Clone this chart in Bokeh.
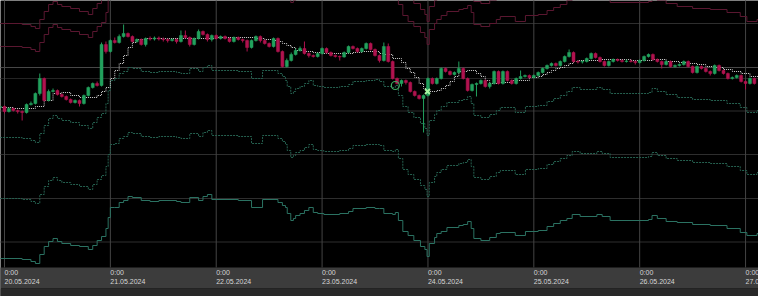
from bokeh.plotting import figure
from bokeh.models import Range1d
from bokeh.embed import file_html
from bokeh.resources import INLINE
from bokeh.core.properties import value

# ---------------- data (hours since 20.05.2024 0:00, hourly candles) ----------------
hours = list(range(-1, 171))
first_open = 66650
close = [66700, 66450, 66600, 66500, 66450, 66400, 66800, 66850, 67350, 68100,
         67000, 67450, 67500, 67300, 67200, 67050, 66900, 67000, 66850, 67250,
         67650, 67850, 67750, 69800, 69450, 70000, 69900, 70200, 70350, 70200,
         69950, 70050, 69800, 70100, 70075, 70125, 70075, 70050, 70000, 70050,
         69950, 70250, 70150, 69800, 70100, 70450, 70300, 70050, 70250, 70100,
         70200, 70100, 69950, 70150, 70050, 70000, 69650, 70000, 70200, 70000,
         69850, 69700, 70100, 69450, 68700, 69000, 69300, 69500, 69600, 69350,
         69250, 69200, 69350, 69600, 69400, 69250, 69200, 69175, 69400, 69700,
         69600, 69450, 69600, 69850, 69550, 69250, 69000, 69700, 68950, 68100,
         67850, 68000, 67900, 67450, 67250, 67100, 67250, 68100, 67850, 68100,
         68600, 68450, 68300, 68400, 68600, 68100, 67500, 67800, 67850, 68000,
         67700, 67850, 68450, 67850, 68450, 68000, 67850, 68100, 68200, 68250,
         68150, 68250, 68400, 68600, 68750, 68850, 68750, 68950, 69200, 69400,
         68950, 68925, 68950, 69100, 69350, 69150, 68950, 68750, 68950, 69050,
         69000, 68950, 68975, 68950, 68900, 69000, 69200, 69300, 69050, 68950,
         68800, 68950, 68700, 68750, 68800, 68950, 68700, 68400, 68700, 68600,
         68450, 68350, 68750, 68500, 68350, 68100, 68150, 68250, 67950, 67850,
         68100, 67850]
high = [66750, 66750, 66650, 66650, 66550, 66500, 66850, 66950, 67400, 68350,
        68150, 67550, 67600, 67550, 67350, 67250, 67100, 67050, 67050, 67300,
        67700, 67900, 67950, 69900, 69950, 70050, 70150, 70300, 70800, 70400,
        70250, 70100, 70100, 70150, 70200, 70200, 70200, 70150, 70100, 70100,
        70100, 70500, 70500, 70200, 70150, 70550, 70500, 70350, 70300, 70300,
        70250, 70250, 70150, 70200, 70200, 70100, 70050, 70050, 70250, 70250,
        70050, 69900, 70150, 70150, 69500, 69100, 69400, 69600, 69700, 69950,
        69400, 69300, 69400, 69650, 69650, 69450, 69300, 69250, 69450, 69750,
        69750, 69650, 69650, 69900, 69900, 69600, 69300, 69900, 69850, 69000,
        68150, 68050, 68050, 67950, 67500, 67300, 67300, 68150, 68150, 68150,
        68650, 68650, 68500, 68450, 68950, 68650, 68150, 67850, 67900, 68050,
        68050, 67900, 68500, 68500, 68500, 68500, 68050, 68150, 68500, 68300,
        68300, 68300, 68450, 68650, 68800, 68900, 68900, 69000, 69250, 69550,
        69450, 69000, 69000, 69150, 69400, 69400, 69200, 69000, 69000, 69100,
        69100, 69050, 69050, 69050, 69000, 69050, 69250, 69350, 69350, 69100,
        69000, 69000, 69000, 68800, 68850, 69000, 69000, 68750, 68750, 68750,
        68650, 68500, 68800, 68800, 68550, 68400, 68200, 68300, 68300, 68000,
        68150, 68150]
low = [66600, 66350, 66400, 66450, 66350, 66000, 66350, 66750, 66800, 67250,
       66950, 66950, 67400, 67250, 67150, 67000, 66850, 66850, 66700, 66800,
       67200, 67600, 67700, 67700, 69350, 69400, 69850, 69850, 70150, 70150,
       69900, 69900, 69750, 69700, 70000, 70000, 70000, 69950, 69900, 69950,
       69850, 69900, 70100, 69700, 69750, 70050, 70250, 69950, 69950, 70050,
       70050, 70050, 69900, 69900, 70000, 69900, 69450, 69600, 69950, 69900,
       69800, 69650, 69650, 69400, 68650, 68650, 68950, 69250, 69450, 69300,
       69150, 69150, 69150, 69300, 69350, 69200, 69150, 69000, 69150, 69350,
       69550, 69400, 69400, 69550, 69500, 69200, 68900, 68950, 68900, 68050,
       67800, 67700, 67800, 67400, 67200, 67050, 65400, 67200, 67800, 67800,
       68050, 68400, 68250, 68250, 68350, 68050, 67450, 67450, 67200, 67800,
       67650, 67600, 67800, 67800, 67800, 67950, 67800, 67800, 68050, 68150,
       68100, 68100, 68200, 68350, 68550, 68700, 68700, 68700, 68900, 69150,
       68900, 68850, 68850, 68900, 69050, 69100, 68900, 68700, 68700, 68900,
       68950, 68900, 68900, 68900, 68800, 68850, 68950, 69150, 69000, 68900,
       68600, 68750, 68650, 68650, 68700, 68750, 68650, 68350, 68350, 68550,
       68400, 68250, 68300, 68450, 68300, 68050, 68050, 68100, 67900, 67550,
       67800, 67800]

# moving average (step line)
ma_h = [-1, 2, 7, 9, 11, 13, 15, 17, 21, 22, 23, 24, 25, 26, 27, 28, 29, 30, 32, 48,
        57, 59, 61, 62, 63, 64, 65, 66, 68, 70, 72, 79, 81, 85, 86, 88, 90, 91, 92, 93,
        94, 95, 96, 98, 99, 100, 101, 102, 103, 105, 107, 108, 109, 110, 112, 115, 119, 121, 122, 123,
        124, 125, 126, 127, 128, 129, 130, 135, 142, 147, 150, 153, 155, 157, 159, 161, 163, 165, 167, 169,
        171]
ma_p = [66650, 66600, 66700, 67000, 67350, 67400, 67250, 67150, 67250, 67450,
        67650, 68100, 68500, 68850, 69250, 69650, 69900, 70050, 70100, 70150,
        70100, 70050, 70000, 69950, 69850, 69750, 69650, 69500, 69450, 69400,
        69350, 69400, 69450, 69350, 69300, 69100, 68900, 68600, 68400, 68150,
        67850, 67600, 67450, 67500, 67600, 67750, 67950, 68200, 68450, 68500,
        68350, 68200, 68000, 67850, 67900, 68000, 68150, 68200, 68300, 68400,
        68500, 68600, 68650, 68750, 68850, 68950, 69000, 69050, 69000, 69050,
        68950, 68900, 68850, 68800, 68700, 68650, 68550, 68450, 68350, 68200,
        68150]

# envelope bands (step lines)
band_h = [-1, 4, 6, 7, 8, 9, 10, 11, 12, 13, 15, 17, 19, 20, 21, 22, 23, 23.5, 24, 25,
          26, 27, 28, 29, 31, 33, 35, 39, 40, 42, 44, 45, 46, 47, 53, 56, 58.5, 62, 63, 63.7,
          64.1, 64.9, 65.5, 66, 67, 68, 69, 70, 71, 72.4, 76, 78, 79, 82, 84, 85, 86, 88, 88.6, 89.3,
          90.3, 91.5, 92.8, 94.3, 95.3, 95.8, 96.3, 97.5, 98, 99, 100.3, 103, 104, 105, 105.8, 106.4, 108, 110, 111.5, 112.4,
          115.8, 118.1, 121, 123, 124.5, 126, 127.5, 128.7, 130.5, 134.3, 135.5, 137.3, 146, 146.8, 148, 150, 152.5, 156, 160, 163.8,
          166.8, 168.3, 170.6, 172]
env_dn1 = [65150, 65100, 65000, 64900, 65350, 65750, 66100, 66250, 66100, 66000, 65900, 65750, 65600, 65900, 66150, 66350, 66850, 67500, 68000, 68100,
           68350, 68450, 68650, 68600, 68450, 68400, 68450, 68400, 68350, 68600, 68450, 68650, 68750, 68500, 68450, 68100, 68500, 68350, 68200, 68000,
           67700, 67350, 67450, 67600, 67700, 67850, 68000, 67750, 67700, 67650, 67700, 67800, 67950, 68000, 68050, 67950, 67700, 67650, 67750, 67250,
           66700, 66400, 66150, 65850, 65600, 65250, 66000, 66300, 66500, 66700, 66900, 67000, 67050, 67200, 66850, 66250, 66150, 66300, 66500, 66650,
           66400, 66700, 66750, 66950, 67100, 67250, 67450, 67650, 67550, 67650, 67550, 67350, 67400, 67600, 67450, 67300, 67150, 67050, 67000, 66850,
           66650, 66400, 66500, 66500]
env_dn2 = [62100, 62050, 61950, 61850, 62300, 62700, 63000, 63150, 63000, 62900, 62800, 62700, 62550, 62800, 63050, 63250, 63700, 64300, 64800, 64850,
           65100, 65200, 65400, 65350, 65200, 65150, 65200, 65150, 65100, 65350, 65200, 65400, 65500, 65250, 65200, 64850, 65250, 65100, 64950, 64800,
           64500, 64150, 64250, 64400, 64500, 64650, 64800, 64550, 64500, 64450, 64500, 64600, 64750, 64800, 64800, 64750, 64500, 64450, 64550, 64100,
           63550, 63300, 63050, 62750, 62550, 62200, 62900, 63200, 63400, 63550, 63750, 63850, 63900, 64050, 63700, 63150, 63050, 63200, 63400, 63500,
           63300, 63550, 63600, 63800, 63950, 64100, 64250, 64450, 64350, 64450, 64350, 64150, 64200, 64400, 64250, 64100, 64000, 63900, 63850, 63700,
           63500, 63300, 63400, 63400]
env_dn3 = [59100, 59050, 58950, 58850, 59300, 59700, 59950, 60100, 59950, 59850, 59750, 59700, 59550, 59750, 60000, 60200, 60600, 61150, 61650, 61650,
           61900, 62000, 62200, 62150, 62000, 61950, 62000, 61950, 61900, 62150, 62000, 62200, 62300, 62050, 62000, 61650, 62050, 61900, 61750, 61650,
           61350, 61000, 61100, 61250, 61350, 61500, 61650, 61400, 61350, 61300, 61350, 61450, 61600, 61650, 61600, 61600, 61350, 61300, 61400, 61000,
           60450, 60250, 60000, 59700, 59550, 59200, 59850, 60150, 60350, 60450, 60650, 60750, 60800, 60950, 60600, 60100, 60000, 60150, 60350, 60400,
           60250, 60450, 60500, 60700, 60850, 61000, 61100, 61300, 61200, 61300, 61200, 61000, 61050, 61250, 61100, 60950, 60900, 60800, 60750, 60600,
           60400, 60250, 60350, 60350]
env_up1 = [69700, 69650, 69550, 69450, 69900, 70300, 70650, 70800, 70650, 70550, 70450, 70300, 70150, 70450, 70700, 70900, 71400, 72050, 72550, 72650,
           72900, 73000, 73200, 73150, 73000, 72950, 73000, 72950, 72900, 73150, 73000, 73200, 73300, 73050, 73000, 72650, 73050, 72900, 72750, 72550,
           72250, 71900, 72000, 72150, 72250, 72400, 72550, 72300, 72250, 72200, 72250, 72350, 72500, 72550, 72600, 72500, 72250, 72200, 72300, 71800,
           71250, 70950, 70700, 70400, 70150, 69800, 70550, 70850, 71050, 71250, 71450, 71550, 71600, 71750, 71400, 70800, 70700, 70850, 71050, 71200,
           70950, 71250, 71300, 71500, 71650, 71800, 72000, 72200, 72100, 72200, 72100, 71900, 71950, 72150, 72000, 71850, 71700, 71600, 71550, 71400,
           71200, 70950, 71050, 71050]
env_up2 = [70850, 70800, 70700, 70600, 71050, 71450, 71800, 71950, 71800, 71700, 71600, 71450, 71300, 71600, 71850, 72050, 72550, 73200, 73700, 73800,
           74050, 74150, 74350, 74300, 74150, 74100, 74150, 74100, 74050, 74300, 74150, 74350, 74450, 74200, 74150, 73800, 74200, 74050, 73900, 73700,
           73400, 73050, 73150, 73300, 73400, 73550, 73700, 73450, 73400, 73350, 73400, 73500, 73650, 73700, 73750, 73650, 73400, 73350, 73450, 72950,
           72400, 72100, 71850, 71550, 71300, 70950, 71700, 72000, 72200, 72400, 72600, 72700, 72750, 72900, 72550, 71950, 71850, 72000, 72200, 72350,
           72100, 72400, 72450, 72650, 72800, 72950, 73150, 73350, 73250, 73350, 73250, 73050, 73100, 73300, 73150, 73000, 72850, 72750, 72700, 72550,
           72350, 72100, 72200, 72200]

# trade marks
entry_time, entry_price = [88.6], [67750]
exit_time, exit_price = [95.9], [67450]

# grid / axis
day_hours = [0, 24, 48, 72, 96, 120, 144, 168]
day_labels = ["20.05.2024", "21.05.2024", "22.05.2024", "23.05.2024",
              "24.05.2024", "25.05.2024", "26.05.2024", "27.05.2024"]
time_labels = ["0:00"] * 8
grid_levels = [70850, 66475, 64300, 62100, 59925]
major_level = [68650]
level_line = [68100]

# ---------------- figure ----------------
W, H = 758, 296
PX_H = 4.411           # pixels per hour
PX_P = 50.0            # price units per pixel
x0 = -4 / PX_H
y_top = 72000
p = figure(width=W, height=H, x_range=Range1d(x0, x0 + W / PX_H),
           y_range=Range1d(y_top - H * PX_P, y_top),
           x_axis_type=None, y_axis_type=None, toolbar_location=None,
           output_backend="svg", min_border=0,
           background_fill_color="#000000", border_fill_color="#000000",
           outline_line_color=None)

band_top = y_top - 267 * PX_P
band_bot = y_top - 288 * PX_P

# grid
xs_end = x0 + W / PX_H + 2
n = len(grid_levels)
p.segment(x0=[x0 - 2] * n, x1=[xs_end] * n, y0=grid_levels, y1=grid_levels,
          line_color="#2e2e2e", line_width=1)
p.segment(x0=[x0 - 2], x1=[xs_end], y0=major_level, y1=major_level,
          line_color="#474747", line_width=1)
p.segment(x0=[x0 - 2], x1=[xs_end], y0=level_line, y1=level_line,
          line_color="#242424", line_width=1)
p.segment(x0=day_hours, x1=day_hours, y0=[band_top] * 8, y1=[y_top + 500] * 8,
          line_color="#444444", line_width=1)

# bands
p.step(band_h, env_up2, mode="after", line_color="#5a1730", line_width=1)
p.step(band_h, env_up1, mode="after", line_color="#5a1730", line_width=1)
p.step(band_h, env_dn1, mode="after", line_color="#25604f", line_width=1, line_dash="2 1")
p.step(band_h, env_dn2, mode="after", line_color="#25604f", line_width=1, line_dash="2 1")
p.step(band_h, env_dn3, mode="after", line_color="#2b7262", line_width=1)

# moving average
p.step(ma_h, ma_p, mode="after", line_color="#d0d0d0", line_width=1, line_dash="1 1")

# candles
opens = [first_open] + close[:-1]
up = [c >= o for o, c in zip(opens, close)]
for flag, col in ((True, "#22a15d"), (False, "#b0134f")):
    idx = [i for i in range(len(hours)) if up[i] == flag]
    xs = [hours[i] for i in idx]
    p.segment(x0=xs, x1=xs, y0=[high[i] for i in idx], y1=[low[i] for i in idx],
              line_color=col, line_width=1)
    p.vbar(x=xs, width=0.68, top=[max(opens[i], close[i]) for i in idx],
           bottom=[min(opens[i], close[i]) for i in idx],
           fill_color=col, line_color=col, line_width=0.5)

# trade markers
p.scatter(entry_time, entry_price, marker="circle", size=8, fill_color=None,
          line_color="#3fae62", line_width=1.2)
p.scatter(exit_time, exit_price, marker="x", size=7, line_color="#a6f5a0", line_width=2)

# time axis band
p.quad(left=[x0 - 2], right=[xs_end], bottom=[band_bot], top=[band_top],
       fill_color="#3c3c3c", line_color=None)
p.quad(left=[x0 - 2], right=[xs_end], bottom=[y_top - H * PX_P - 100], top=[band_bot],
       fill_color="#282828", line_color=None)
p.text(x=day_hours, y=[y_top - 268.5 * PX_P] * 8, text=time_labels,
       text_font=value("Liberation Sans"), text_font_size="7px",
       text_color="#d6d6d6", text_align="left", text_baseline="top")
p.text(x=day_hours, y=[y_top - 278.5 * PX_P] * 8, text=day_labels,
       text_font=value("Liberation Sans"), text_font_size="7px",
       text_color="#d6d6d6", text_align="left", text_baseline="top")

open("out.html", "w").write(file_html(p, INLINE))
